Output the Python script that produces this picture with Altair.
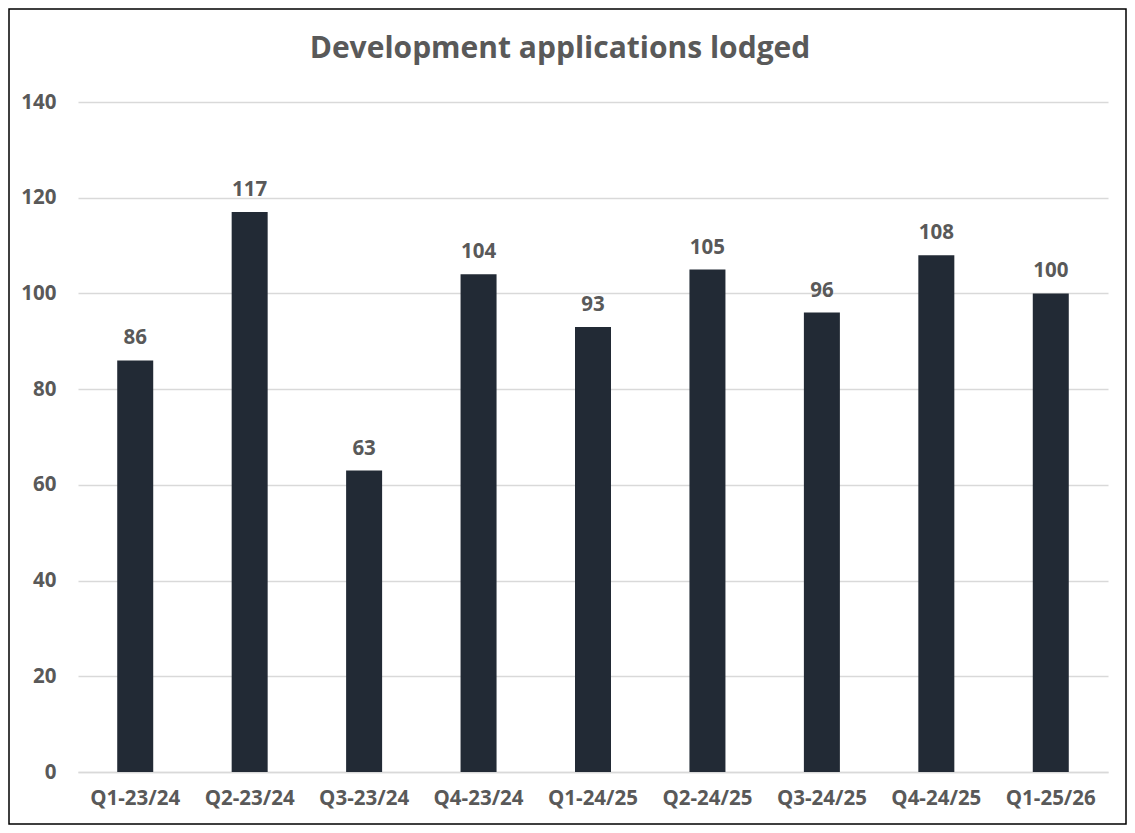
import altair as alt
import pandas as pd

categories = ["Q1-23/24", "Q2-23/24", "Q3-23/24", "Q4-23/24", "Q1-24/25",
              "Q2-24/25", "Q3-24/25", "Q4-24/25", "Q1-25/26"]
values = [86, 117, 63, 104, 93, 105, 96, 108, 100]
title_text = "Development applications lodged"

df = pd.DataFrame({"quarter": categories, "count": values})

FONT = "Open Sans"
GRAY = "#595959"
W, H = 1030, 670

x = alt.X("quarter:N", sort=categories, title=None,
          scale=alt.Scale(paddingInner=0.685, paddingOuter=0.3425),
          axis=alt.Axis(labelAngle=0, labelFont=FONT, labelFontSize=20.5,
                        labelFontWeight="bold", labelColor=GRAY, labelPadding=16,
                        ticks=False, domainColor="#d9d9d9", domainWidth=1.5,
                        grid=False))
y = alt.Y("count:Q", title=None,
          scale=alt.Scale(domain=[0, 140], nice=False),
          axis=alt.Axis(values=[0, 20, 40, 60, 80, 100, 120, 140],
                        labelFont=FONT, labelFontSize=20.5, labelFontWeight="bold",
                        labelColor=GRAY, labelPadding=22, ticks=False,
                        domain=False, gridColor="#d9d9d9", gridWidth=1.3))

bars = alt.Chart(df).mark_bar(color="#222a35", size=36).encode(x=x, y=y)
labels = alt.Chart(df).mark_text(font=FONT, fontSize=20.5, fontWeight="bold",
                                 color=GRAY, baseline="alphabetic", dy=-16).encode(
    x=alt.X("quarter:N", sort=categories),
    y="count:Q", text="count:Q")

title = alt.Chart(pd.DataFrame({"t": [title_text]})).mark_text(
    font=FONT, fontSize=30, fontWeight="bold", color=GRAY,
    baseline="alphabetic", align="center").encode(
    x=alt.value(482), y=alt.value(-44), text="t:N")

border = alt.Chart(pd.DataFrame({"a": [0]})).mark_rect(
    filled=False, stroke="black", strokeWidth=1.5, clip=False).encode(
    x=alt.value(-69), x2=alt.value(1048), y=alt.value(-93), y2=alt.value(722))

chart = alt.layer(bars, labels, title, border).properties(
    width=W, height=H,
    autosize=alt.AutoSizeParams(type="none"),
    padding={"left": 70, "top": 94, "right": 19, "bottom": 53},
    background="white",
).configure_view(stroke=None)

chart.save("out.html", embed_options={"renderer": "svg", "actions": False})
